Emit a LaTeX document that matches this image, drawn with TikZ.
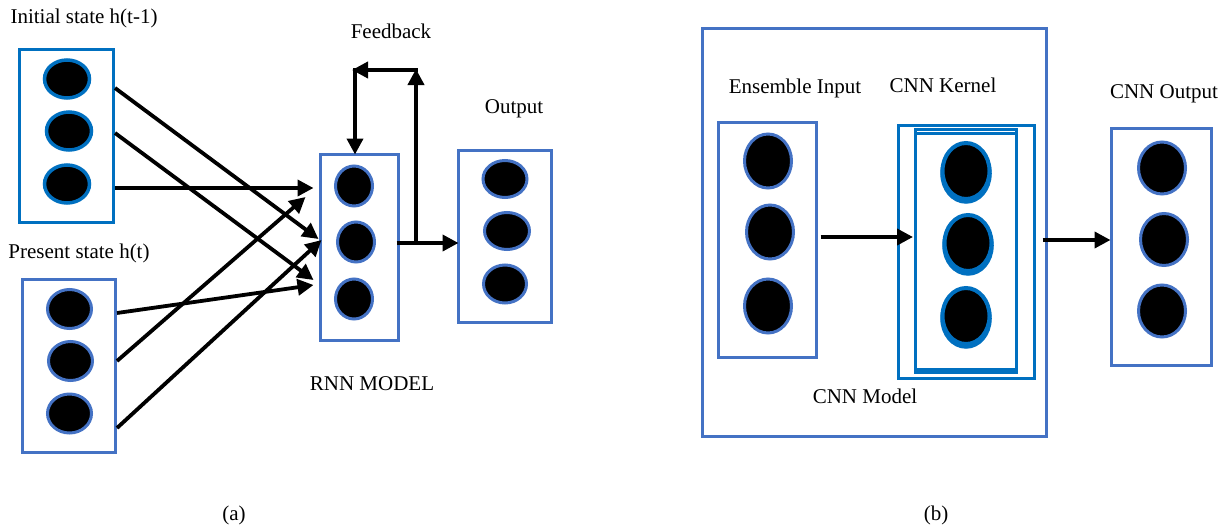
\documentclass[tikz,border=0pt]{standalone}
\usepackage{fontspec}
\setmainfont{Liberation Serif}
\usetikzlibrary{arrows.meta,shapes.geometric,calc}
\definecolor{oblue}{HTML}{0070C0}
\definecolor{sblue}{HTML}{4472C4}
\tikzset{
  layerbox/.style={draw=#1, line width=3pt, rectangle, inner sep=0pt, outer sep=0pt},
  neuron/.style={ellipse, draw=#1, fill=black, line width=3pt, inner sep=0pt, outer sep=0pt},
  link/.style={line width=3.8pt, -{Triangle[length=16pt,width=16pt]}},
  lbl/.style={font=\fontsize{21}{25}\selectfont, inner sep=0pt, anchor=base},
}
\begin{document}
\begin{tikzpicture}[x=1pt,y=-1pt]
\useasboundingbox (0,0) rectangle (1230,530);

% ---------------- (a) recurrent network ----------------
\node[layerbox=oblue, line width=3.5pt, minimum width=94pt, minimum height=173pt] (boxA) at (66.5,136) {};
\node[neuron=oblue, line width=3.5pt, minimum width=45pt, minimum height=38pt] (a1) at (67,79) {};
\node[neuron=oblue, line width=3.5pt, minimum width=45pt, minimum height=38pt] (a2) at (69,131) {};
\node[neuron=oblue, line width=3.5pt, minimum width=45pt, minimum height=38pt] (a3) at (67,184) {};
\node[lbl] (tA) at (84,23) {Initial state h(t-1)};

\node[layerbox=sblue, minimum width=93pt, minimum height=173pt] (boxB) at (69,366) {};
\node[neuron=sblue, minimum width=44pt, minimum height=39pt] (b1) at (69.5,309) {};
\node[neuron=sblue, minimum width=44pt, minimum height=39pt] (b2) at (70.5,361) {};
\node[neuron=sblue, minimum width=44pt, minimum height=39pt] (b3) at (69.5,413.5) {};
\node[lbl] (tB) at (79,258) {Present state h(t)};

\node[layerbox=sblue, minimum width=78pt, minimum height=186pt] (rnn) at (359.5,247.5) {};
\node[neuron=sblue, minimum width=37pt, minimum height=40pt] (r1) at (354,186) {};
\node[neuron=sblue, minimum width=37pt, minimum height=40pt] (r2) at (356,242) {};
\node[neuron=sblue, minimum width=37pt, minimum height=40pt] (r3) at (354,299) {};
\node[lbl] (tR) at (372,390) {RNN MODEL};

\node[layerbox=sblue, minimum width=93pt, minimum height=172pt] (outA) at (505,236.5) {};
\node[neuron=sblue, minimum width=44pt, minimum height=37pt] (o1) at (505,179) {};
\node[neuron=sblue, minimum width=45pt, minimum height=37pt] (o2) at (507,231) {};
\node[neuron=sblue, minimum width=43pt, minimum height=38pt] (o3) at (505,284) {};
\node[lbl] (tO) at (514,113) {Output};

% input connections into the recurrent layer
\draw[link] ($(boxA.east |- a1)+(1.5,9)$)  -- ($(rnn.west |- r2)+(-2,-3)$);
\draw[link] ($(boxA.east |- a2)+(1.5,2)$)  -- ($(rnn.west |- r3)+(-7,-19)$);
\draw[link] ($(boxA.east |- a3)+(1.5,4)$)  -- ($(rnn.west |- r1)+(-7,2)$);
\draw[link] ($(boxB.east |- b1)+(1.5,4)$)  -- ($(rnn.west |- r3)+(-7,-14)$);
\draw[link] ($(boxB.east |- b2)+(1.5,0)$)  -- ($(rnn.west |- r1)+(-15,11)$);
\draw[link] ($(boxB.east |- b3)+(1.5,14.5)$) -- ($(rnn.west |- r2)+(1,-2)$);

% output and feedback loop
\coordinate (split) at (416,243);
\coordinate (fbR) at (416,69);
\coordinate (fbL) at (355,70);
\draw[link] ($(rnn.east |- split)+(-2,0)$) -- (outA.west |- split);
\draw[link] (split) -- (fbR);
\draw[link] ($(fbR)+(1.9,1)$) -- ($(fbL)+(-3,0)$);
\draw[link] ($(fbL)+(0,-1.9)$) -- (fbL |- rnn.north);
\node[lbl] (tF) at (391,38) {Feedback};

\node[lbl] (capA) at (234,520) {(a)};

% ---------------- (b) convolutional network ----------------
\node[layerbox=sblue, minimum width=344pt, minimum height=408pt] (model) at (874.5,232.5) {};
\node[lbl] (tM) at (865,403) {CNN Model};

\node[layerbox=sblue, minimum width=98pt, minimum height=235pt] (ens) at (767.5,240) {};
\node[neuron=sblue, minimum width=47pt, minimum height=54pt] (e1) at (768,161) {};
\node[neuron=sblue, minimum width=47pt, minimum height=54pt] (e2) at (770,232) {};
\node[neuron=sblue, minimum width=47pt, minimum height=54pt] (e3) at (768,306) {};
\node[lbl] (tE) at (795,93) {Ensemble Input};

\node[layerbox=oblue, line width=3.5pt, minimum width=136pt, minimum height=253pt] (kout) at (966.5,252) {};
\node[layerbox=oblue, line width=2.5pt, minimum width=101pt, minimum height=240pt] (kin) at (966,249.5) {};
\node[layerbox=oblue, line width=2.5pt, minimum width=101pt, minimum height=239pt] (kin2) at (966,253) {};
\foreach \n/\cx/\cy in {k1/966/172, k2/968/244, k3/966/317}{
  \node[neuron=oblue, line width=4.5pt, minimum width=47pt, minimum height=56pt] (\n b) at (\cx,\cy+1.5) {};
  \node[neuron=oblue, line width=4pt, minimum width=47pt, minimum height=56pt] (\n) at (\cx,\cy-1) {};
}
\node[lbl] (tK) at (943,92) {CNN Kernel};

\node[layerbox=sblue, minimum width=100pt, minimum height=237pt] (cout) at (1161.5,247) {};
\node[neuron=sblue, minimum width=47pt, minimum height=52pt] (c1) at (1162,168) {};
\node[neuron=sblue, minimum width=47pt, minimum height=52pt] (c2) at (1164,239.5) {};
\node[neuron=sblue, minimum width=47pt, minimum height=52pt] (c3) at (1162,311) {};
\node[lbl] (tC) at (1164,98) {CNN Output};

\coordinate (kin-in) at (913,237);
\draw[link] ($(ens.east |- kin-in)+(4,0)$) -- (kin-in);
\draw[link] ($(model.east |- cout.west)+(-4,-7)$) -- ($(cout.west)+(-1,-7)$);

\node[lbl] (capB) at (936,520) {(b)};
\end{tikzpicture}
\end{document}
